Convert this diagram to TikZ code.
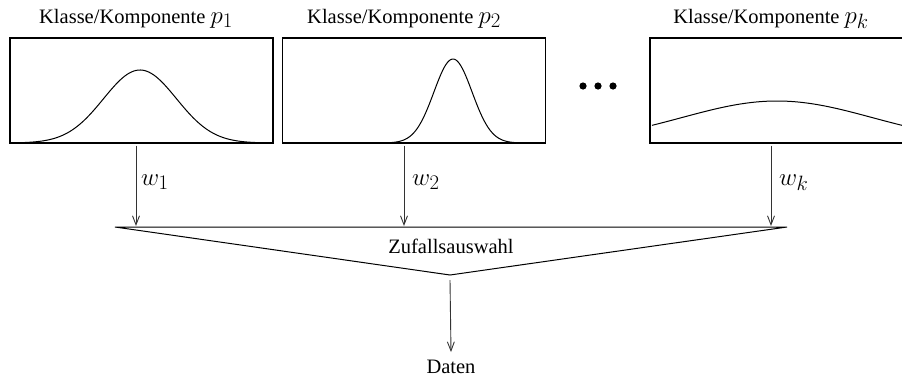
\documentclass[tikz,border=0pt]{standalone}
\usepackage[no-math]{fontspec}
\setmainfont{Liberation Serif}
\usetikzlibrary{arrows.meta}

\tikzset{
  panel/.style={draw, line width=1.1pt, minimum width=263pt, minimum height=105pt, inner sep=0pt},
  density/.style={line width=1pt, smooth},
  weight/.style={-{Straight Barb[length=9pt,width=7pt]}, line width=0.9pt, draw=black!80},
  txt/.style={font=\fontsize{20.5}{24}\selectfont, inner sep=0pt},
  mathlbl/.style={font=\fontsize{29}{32}\selectfont, inner sep=0pt},
}
\newcommand{\titlemath}[1]{{\fontsize{29}{32}\selectfont$#1$}}

\begin{document}
\begin{tikzpicture}[x=1pt, y=-1pt]
  \useasboundingbox (0,0) rectangle (902,378);

  % component panels
  \node[panel] (b1) at (141.5,90.5) {};
  \node[panel] (b2) at (414,90.5) {};
  \node[panel] (bk) at (781.5,90.5) {};

  % panel titles
  \node[txt, anchor=base] (t1) at (136,23) {Klasse/Komponente \titlemath{p_1}};
  \node[txt, anchor=base] (t2) at (404,23) {Klasse/Komponente \titlemath{p_2}};
  \node[txt, anchor=base] (tk) at (771,23) {Klasse/Komponente \titlemath{p_k}};

  % density curves
  \draw[density] plot[domain=11:272, samples=120]
    (\x, {143-73*exp(-0.5*((\x-140)/36.5)^2)});
  \draw[density] plot[domain=284:544, samples=160]
    (\x, {143-84*exp(-0.5*((\x-453)/19.1)^2)});
  \draw[density] plot[domain=652:912, samples=80]
    (\x, {143-42*exp(-0.5*((\x-777)/95)^2)});

  % ellipsis between panels
  \fill (583,86) circle (3.6pt);
  \fill (598,86) circle (3.6pt);
  \fill (613,86) circle (3.6pt);

  % selection funnel
  \coordinate (fl) at (115,227);
  \coordinate (fr) at (787,227);
  \coordinate (fa) at (450,275);
  \draw[line width=1pt, line join=miter] (fl) -- (fr) -- (fa) -- cycle;
  \node[txt, anchor=base] (sel) at (451,253) {Zufallsauswahl};

  % weighted arrows into the funnel
  \coordinate (e1) at (136,226);
  \coordinate (e2) at (404,226);
  \coordinate (ek) at (771,226);
  \draw[weight] (b1.south -| e1) ++(0,2) -- (e1);
  \draw[weight] (b2.south -| e2) ++(0,2) -- (e2);
  \draw[weight] (bk.south -| ek) ++(0,2) -- (ek);
  \node[mathlbl, anchor=base west] (w1) at (141,185) {$w_1$};
  \node[mathlbl, anchor=base west] (w2) at (412,185) {$w_2$};
  \node[mathlbl, anchor=base west] (wk) at (779,185) {$w_k$};

  % output
  \node[txt, anchor=base] (out) at (451,373) {Daten};
  \draw[weight] (fa) ++(0,5) -- (out.north |- 0,352);
\end{tikzpicture}
\end{document}
